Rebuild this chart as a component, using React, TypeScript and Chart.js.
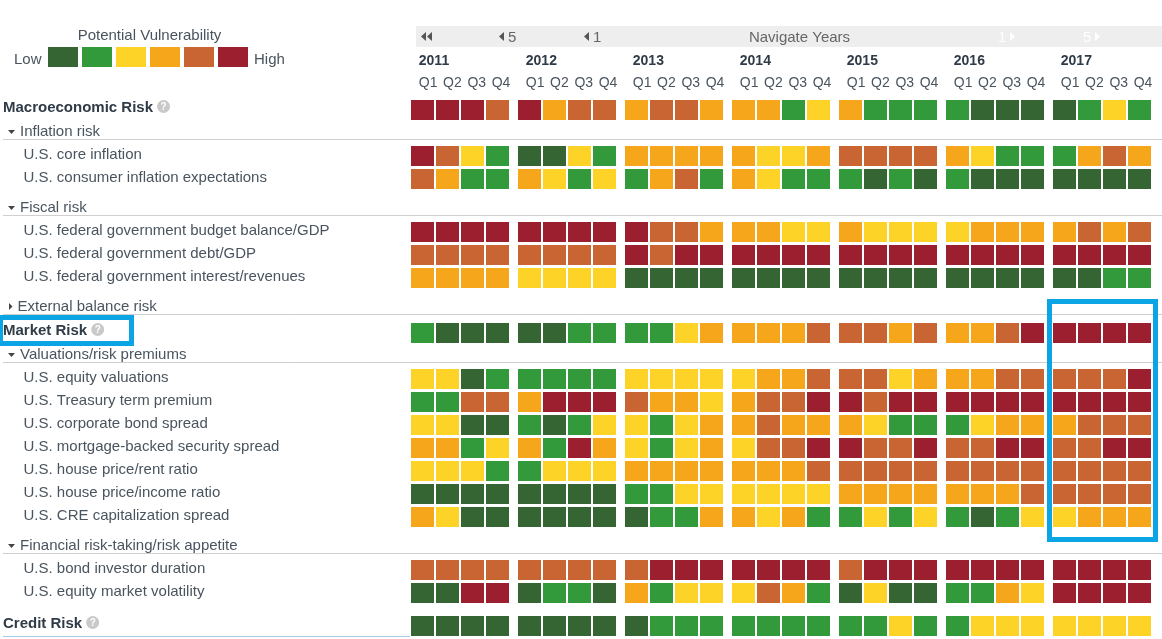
import React, { useEffect, useRef } from "react";
import { Chart, registerables } from "chart.js";

Chart.register(...registerables);

// ---------- data ----------
const years = ["2011", "2012", "2013", "2014", "2015", "2016", "2017"];
const quarters = ["Q1", "Q2", "Q3", "Q4"];
// 1 = low vulnerability ... 6 = high vulnerability
const macroeconomicRisk = [6,6,6,5, 6,4,5,5, 4,5,5,4, 4,4,2,3, 4,2,2,2, 2,1,1,1, 1,2,3,2];
const coreInflation = [6,5,3,2, 1,1,3,2, 4,4,4,4, 4,3,3,4, 5,5,5,5, 4,3,2,2, 2,4,5,4];
const consumerInflationExpectations = [5,4,2,2, 4,3,2,3, 2,4,5,2, 4,3,2,2, 2,1,2,1, 2,1,1,1, 1,1,1,1];
const budgetBalance = [6,6,6,6, 6,6,6,6, 6,5,5,4, 4,4,3,3, 4,3,3,3, 3,4,4,4, 4,5,4,5];
const governmentDebt = [5,5,5,5, 5,5,5,5, 6,5,6,6, 6,6,6,6, 6,6,6,6, 6,6,6,6, 6,6,6,6];
const interestRevenues = [4,4,4,4, 3,3,3,3, 1,1,1,1, 1,1,1,1, 1,1,1,1, 1,1,1,1, 1,1,2,2];
const marketRisk = [2,1,1,1, 1,1,2,2, 2,2,3,4, 4,4,4,5, 5,5,4,5, 4,4,5,6, 6,6,6,6];
const equityValuations = [3,3,1,2, 2,2,2,2, 3,3,3,3, 3,4,4,5, 5,5,3,4, 4,4,5,5, 5,5,5,6];
const termPremium = [2,2,5,5, 4,6,6,6, 5,4,4,3, 4,5,5,6, 6,5,6,6, 6,6,6,6, 6,6,6,6];
const corporateBondSpread = [3,3,1,1, 2,1,2,3, 3,2,3,4, 4,5,4,4, 4,3,2,2, 2,3,4,4, 4,5,5,5];
const mbsSpread = [4,4,2,3, 4,2,6,4, 3,2,3,4, 3,5,5,6, 6,5,5,6, 5,5,6,6, 5,5,6,6];
const housePriceRent = [3,3,3,2, 2,3,3,3, 4,4,4,4, 4,4,4,5, 5,5,5,5, 5,5,5,5, 5,5,5,5];
const housePriceIncome = [1,1,1,1, 1,1,1,1, 2,2,3,3, 3,3,3,3, 4,4,4,4, 4,4,4,5, 5,5,5,5];
const creSpread = [4,3,1,1, 1,1,1,1, 1,2,2,4, 4,3,4,2, 2,3,2,3, 2,1,2,3, 3,4,4,4];
const bondDuration = [5,5,5,5, 5,5,5,5, 5,6,6,6, 6,6,6,6, 5,6,6,6, 6,6,6,6, 6,6,6,6];
const equityVolatility = [1,1,6,6, 1,2,2,1, 4,2,3,3, 3,5,4,2, 1,3,1,1, 2,2,4,3, 6,6,6,6];
const creditRisk = [1,1,1,1, 1,1,1,1, 1,2,2,2, 2,2,2,2, 2,2,3,2, 2,3,3,3, 3,3,3,3];
const legendLevels = [1, 2, 3, 4, 5, 6];

const rowLabels = [
  "Macroeconomic Risk", "Inflation risk", "U.S. core inflation", "U.S. consumer inflation expectations",
  "Fiscal risk", "U.S. federal government budget balance/GDP", "U.S. federal government debt/GDP",
  "U.S. federal government interest/revenues", "External balance risk", "Market Risk",
  "Valuations/risk premiums", "U.S. equity valuations", "U.S. Treasury term premium",
  "U.S. corporate bond spread", "U.S. mortgage-backed security spread", "U.S. house price/rent ratio",
  "U.S. house price/income ratio", "U.S. CRE capitalization spread", "Financial risk-taking/risk appetite",
  "U.S. bond investor duration", "U.S. equity market volatility", "Credit Risk",
];
const rowKinds = [
  "section", "group", "item", "item", "group", "item", "item", "item", "closed", "section", "group",
  "item", "item", "item", "item", "item", "item", "item", "group", "item", "item", "section",
];
const rowValues = [
  macroeconomicRisk, null, coreInflation, consumerInflationExpectations, null, budgetBalance, governmentDebt,
  interestRevenues, null, marketRisk, null, equityValuations, termPremium, corporateBondSpread, mbsSpread,
  housePriceRent, housePriceIncome, creSpread, null, bondDuration, equityVolatility, creditRisk,
];

// ---------- styling ----------
const levelColors = ["", "#356533", "#329a3a", "#fed327", "#f6a61b", "#c96532", "#9b1f2e"];
const FONT = '"Liberation Sans", Arial, sans-serif';
const TEXT = "#4a545e";
const DARK = "#2f3b47";
const BLUE = "#0ba5e6";
const RULE = "#cfcfcf";

// one x unit = one quarter cell pitch, one y unit = one row pitch
const CELL_W = 25;
const ROW_H = 23;
const YEAR_STEP = 107 / 25;
const X0 = 422.5;
const Y0 = 110;
const rowStep = [0, 1, 1, 1, 30 / 23, 1, 1, 1, 30 / 23, 25 / 23, 1, 1, 1, 1, 1, 1, 1, 1, 30 / 23, 1, 1, 33 / 23];
const rowSlot: number[] = [];
rowStep.reduce((acc, s, i) => ((rowSlot[i] = acc + s), acc + s), 0);
const CELL_H = 20 / 23;
const quarterX = (q: number) => Math.floor(q / 4) * YEAR_STEP + (q % 4);

const overlay = {
  id: "monitorText",
  afterDatasetsDraw(chart: any) {
    const { ctx, scales } = chart;
    const x = scales.x;
    const y = scales.y;
    const text = (s: string, px: number, py: number, font: string, color: string, align: any = "left") => {
      ctx.font = font;
      ctx.fillStyle = color;
      ctx.textAlign = align;
      ctx.textBaseline = "middle";
      ctx.fillText(s, px, py);
    };
    const tri = (pts: number[], color: string) => {
      ctx.fillStyle = color;
      ctx.beginPath();
      ctx.moveTo(pts[0], pts[1]);
      ctx.lineTo(pts[2], pts[3]);
      ctx.lineTo(pts[4], pts[5]);
      ctx.closePath();
      ctx.fill();
    };
    const help = (cx: number, cy: number) => {
      ctx.fillStyle = "#c9c9c9";
      ctx.beginPath();
      ctx.arc(cx, cy, 6.5, 0, Math.PI * 2);
      ctx.fill();
      text("?", cx, cy + 0.5, `bold 10px ${FONT}`, "#ffffff", "center");
    };
    ctx.save();

    // legend text
    text("Potential Vulnerability", 149.5, 35.5, `15px ${FONT}`, TEXT, "center");
    text("Low", 14, 59.5, `15px ${FONT}`, TEXT);
    text("High", 254, 59.5, `15px ${FONT}`, TEXT);

    // navigation bar
    ctx.fillStyle = "#eeeeee";
    ctx.fillRect(416, 26, 746, 21);
    const navL = (px: number, c: string) => tri([px + 5, 32, px + 5, 41, px, 36.5], c);
    const navR = (px: number, c: string) => tri([px, 32, px, 41, px + 5, 36.5], c);
    navL(421, "#555555");
    navL(427, "#555555");
    navL(499, "#555555");
    text("5", 508, 37.5, `15px ${FONT}`, "#666666");
    navL(584, "#555555");
    text("1", 593, 37.5, `15px ${FONT}`, "#666666");
    text("Navigate Years", 799.5, 37.5, `15px ${FONT}`, "#666666", "center");
    text("1", 998, 37.5, `15px ${FONT}`, "#ffffff");
    navR(1010, "#ffffff");
    text("5", 1083, 37.5, `15px ${FONT}`, "#ffffff");
    navR(1095, "#ffffff");

    // years and quarters
    years.forEach((yr, i) => {
      const left = x.getPixelForValue(quarterX(i * 4)) - CELL_W / 2 + 8.8;
      text(yr, left, 61.5, `bold 14px ${FONT}`, DARK);
      quarters.forEach((q, k) => text(q, left + k * 24.3, 83, `14px ${FONT}`, TEXT));
    });

    // row labels, rules and markers
    rowLabels.forEach((label, i) => {
      const kind = rowKinds[i];
      const py = y.getPixelForValue(rowSlot[i]);
      if (kind === "section") {
        text(label, 3, py - 2, `bold 15px ${FONT}`, DARK);
        const w = ctx.measureText(label).width;
        help(3 + w + 10.5, py - 3.5);
      } else if (kind === "item") {
        text(label, 23.5, py - 1, `15px ${FONT}`, TEXT);
      } else {
        const open = kind === "group";
        const next = y.getPixelForValue(rowSlot[i + 1]);
        text(label, open ? 20 : 17.5, py - 1, `15px ${FONT}`, TEXT);
        if (open) tri([8, py - 3, 15, py - 3, 11.5, py + 1], "#444444");
        else tri([9, py - 5, 9, py + 2, 12.5, py - 1.5], "#444444");
        const rule = Math.round(next - (kind === "closed" ? 18.7 : 16.7)) + 0.5;
        ctx.strokeStyle = RULE;
        ctx.lineWidth = 1;
        ctx.beginPath();
        ctx.moveTo(3, rule);
        ctx.lineTo(1162, rule);
        ctx.stroke();
      }
    });

    // bottom edge of the box cut off by the screenshot
    ctx.strokeStyle = "#a9c9e8";
    ctx.lineWidth = 1;
    ctx.beginPath();
    ctx.moveTo(3, 636.5);
    ctx.lineTo(410, 636.5);
    ctx.stroke();

    // highlight boxes
    ctx.strokeStyle = BLUE;
    ctx.lineWidth = 5;
    ctx.strokeRect(0.5, 317.5, 131, 26);
    const bx0 = x.getPixelForValue(quarterX(24)) - 15;
    const bx1 = x.getPixelForValue(quarterX(27)) + 16;
    ctx.strokeRect(bx0, 301.5, bx1 - bx0, 238);
    ctx.restore();
  },
};

export default function App() {
  const ref = useRef<HTMLCanvasElement | null>(null);
  useEffect(() => {
    if (!ref.current) return;
    const datasets: any[] = [];
    rowValues.forEach((vals, r) => {
      if (!vals) return;
      datasets.push({
        label: rowLabels[r],
        data: vals.map((_, q) => ({
          x: quarterX(q),
          y: [rowSlot[r] - CELL_H / 2, rowSlot[r] + CELL_H / 2],
        })),
        backgroundColor: vals.map((v) => levelColors[v]),
        barThickness: 23,
        grouped: false,
        borderWidth: 0,
        inflateAmount: 0,
      });
    });
    datasets.push({
      label: "Potential Vulnerability",
      data: legendLevels.map((_, i) => ({
        x: (63 + 34 * i - X0) / CELL_W,
        y: [(47 - Y0) / ROW_H, (67 - Y0) / ROW_H],
      })),
      backgroundColor: legendLevels.map((v) => levelColors[v]),
      barThickness: 30,
      grouped: false,
      borderWidth: 0,
      inflateAmount: 0,
    });
    const chart = new Chart(ref.current, {
      type: "bar",
      data: { datasets },
      plugins: [overlay],
      options: {
        animation: false,
        responsive: false,
        devicePixelRatio: 1,
        events: [],
        layout: { padding: 0 },
        plugins: { legend: { display: false }, tooltip: { enabled: false } },
        scales: {
          x: { type: "linear", display: false, offset: false, min: -X0 / CELL_W, max: (1162 - X0) / CELL_W },
          y: { type: "linear", display: false, reverse: true, min: -Y0 / ROW_H, max: (639 - Y0) / ROW_H },
        },
      },
    } as any);
    return () => chart.destroy();
  }, []);
  return (
    <div style={{ position: "absolute", left: 0, top: 0, width: 1162, height: 639, background: "#fff" }}>
      <canvas ref={ref} width={1162} height={639} style={{ display: "block" }} />
    </div>
  );
}
